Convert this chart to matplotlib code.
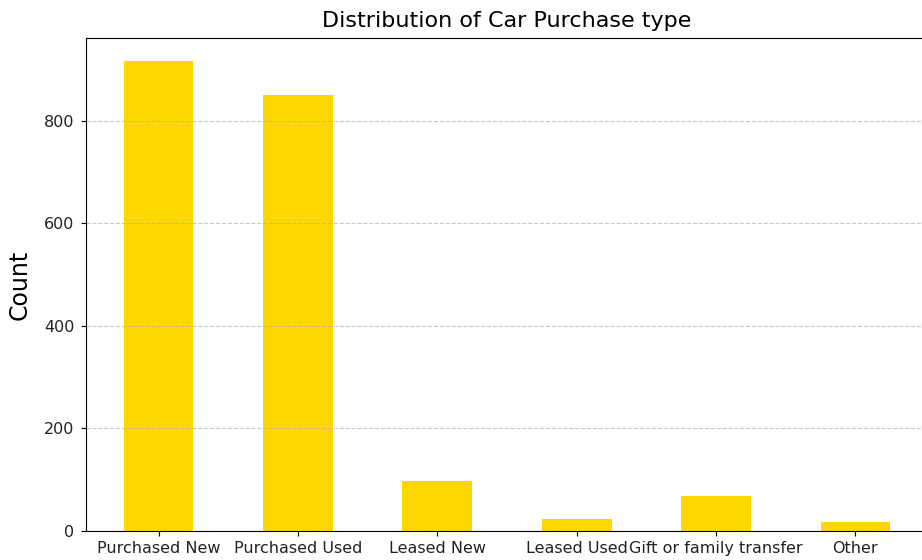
import matplotlib
matplotlib.use("Agg")
import matplotlib.pyplot as plt

# ----------------------------
# Data
# ----------------------------
purchase_types = [
    "Purchased New",
    "Purchased Used",
    "Leased New",
    "Leased Used",
    "Gift or family transfer",
    "Other",
]
counts = [916, 851, 98, 24, 69, 18]

# ----------------------------
# Plot
# ----------------------------
fig = plt.figure(figsize=(9.22, 5.6), dpi=100)
# axes run slightly past the right edge, like the cropped original
ax = fig.add_axes([85.5 / 922, 29 / 560, 843 / 922, 493 / 560])

ax.bar(range(len(purchase_types)), counts, width=0.5, color="gold")

ax.set_xticks(range(len(purchase_types)))
ax.set_xticklabels(purchase_types, fontsize=11.5, color="#222222")
ax.tick_params(axis="y", labelsize=11.5, labelcolor="#222222", pad=4.5)

ax.set_title("Distribution of Car Purchase type", fontsize=16, pad=8)
ax.set_ylabel("Count", fontsize=17, labelpad=9)

ax.grid(axis="y", linestyle="--", alpha=0.7)

fig.savefig("out.png", dpi=100)
